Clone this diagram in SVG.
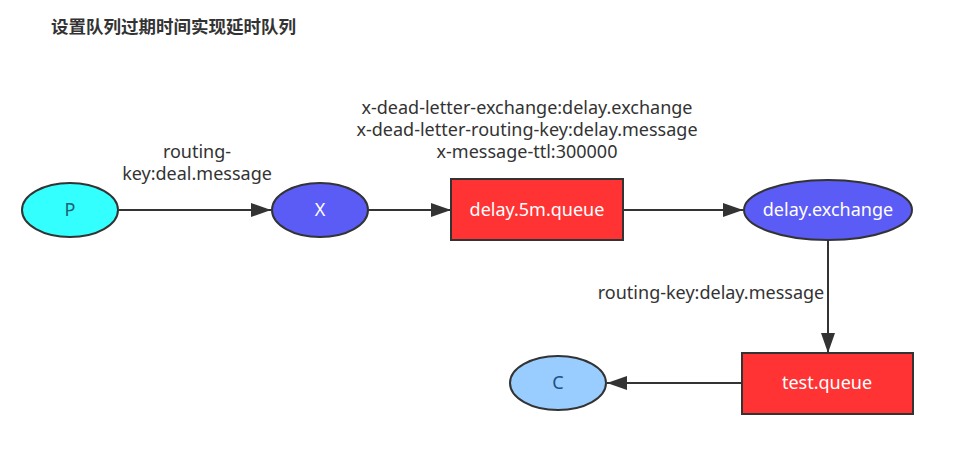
<svg xmlns="http://www.w3.org/2000/svg" width="970" height="460" viewBox="0 0 970 460">
<defs>
<marker id="ah" viewBox="0 0 20 14" refX="20" refY="7" markerWidth="20" markerHeight="14" markerUnits="userSpaceOnUse" orient="auto">
<path d="M0,0 L20,7 L0,14 Z" fill="#333"/>
</marker>
</defs>
<style>
.t{font-family:"Noto Sans","Noto Sans CJK SC",sans-serif;font-size:18px;fill:#333;text-anchor:middle}
.w{font-family:"Noto Sans","Noto Sans CJK SC",sans-serif;font-size:18px;fill:#fff;text-anchor:middle}
.n{stroke:#333;stroke-width:2}
.e{stroke:#333;stroke-width:2;fill:none;marker-end:url(#ah)}
</style>
<rect width="970" height="460" fill="#fff"/>
<text x="51" y="33" style="font-family:'Noto Sans CJK SC',sans-serif;font-size:17.5px;font-weight:bold;fill:#333">设置队列过期时间实现延时队列</text>
<g id="edges">
<line class="e" x1="119" y1="210" x2="271" y2="210"/>
<line class="e" x1="368" y1="210" x2="451" y2="210"/>
<line class="e" x1="623" y1="210" x2="743" y2="210"/>
<line class="e" x1="828" y1="240" x2="828" y2="353"/>
<line class="e" x1="742" y1="383" x2="607" y2="383"/>
<text class="t" x="197" y="158">routing-</text>
<text class="t" x="197" y="180">key:deal.message</text>
<text class="t" x="527" y="114">x-dead-letter-exchange:delay.exchange</text>
<text class="t" x="527" y="136">x-dead-letter-routing-key:delay.message</text>
<text class="t" x="527" y="158">x-message-ttl:300000</text>
<text class="t" x="711" y="299">routing-key:delay.message</text>
</g>
<g id="P"><ellipse class="n" cx="70" cy="210" rx="48" ry="27" fill="#33ffff"/><text class="t" x="70" y="216" style="fill:#1f5f70">P</text></g>
<g id="X"><ellipse class="n" cx="320" cy="210" rx="48" ry="27" fill="#5b5bf5"/><text class="w" x="320" y="216">X</text></g>
<g id="delay5m"><rect class="n" x="451" y="179" width="172" height="61" fill="#ff3333"/><text class="w" x="537" y="216">delay.5m.queue</text></g>
<g id="delayex"><ellipse class="n" cx="828" cy="210" rx="84" ry="30" fill="#5b5bf5"/><text class="w" x="828" y="216">delay.exchange</text></g>
<g id="testq"><rect class="n" x="742" y="353" width="171" height="61" fill="#ff3333"/><text class="w" x="827" y="389">test.queue</text></g>
<g id="C"><ellipse class="n" cx="558" cy="383" rx="48" ry="27" fill="#99ccff"/><text class="t" x="558" y="389" style="fill:#1f4f80">C</text></g>
</svg>
